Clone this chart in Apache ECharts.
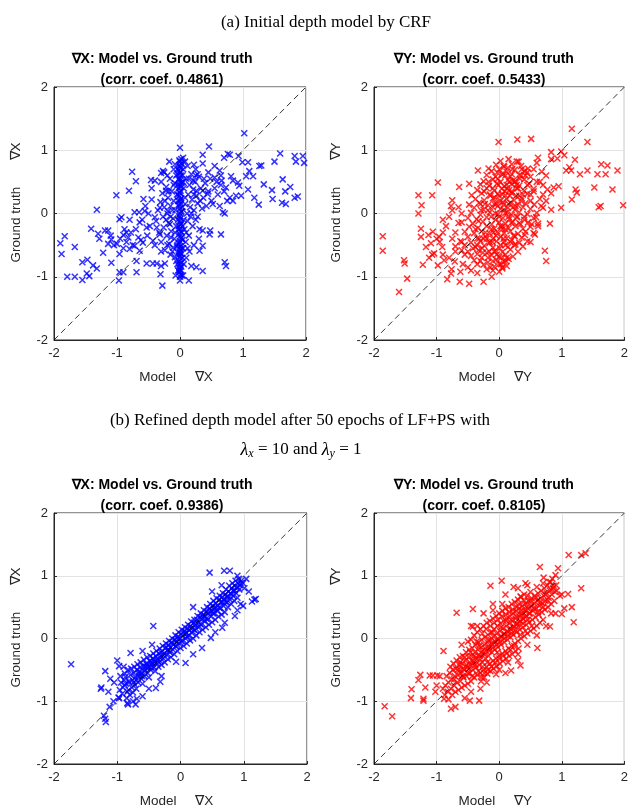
<!DOCTYPE html>
<html>
<head>
<meta charset="utf-8">
<script src="https://cdn.jsdelivr.net/npm/echarts@6/dist/echarts.min.js"></script>
<style>
  html, body { margin: 0; padding: 0; background: #fff; }
  #main { width: 631px; height: 809px; }
</style>
</head>
<body>
<div id="main"></div>
<script>

// tick labels shared by every axis
const tickValues = [-2, -1, 0, 1, 2];
const identityLine = [-2, 2];

// (a) CRF, gradient along X
const dxCrfColumn = [
  [0,-1.0],[0.01,-0.97],[-0.01,-0.93],[0,-0.88],[0.02,-0.84],[0,-0.8],[-0.02,-0.76],[0.01,-0.72],[0,-0.68],
  [0.02,-0.64],[-0.01,-0.6],[0,-0.56],[0.01,-0.52],[-0.02,-0.48],[0,-0.44],[0.02,-0.4],[0,-0.36],[-0.01,-0.32],
  [0.01,-0.28],[0,-0.24],[-0.02,-0.2],[0.02,-0.16],[0,-0.12],[0.01,-0.08],[-0.01,-0.04],[0,0],[0.02,0.04],
  [0,0.08],[-0.02,0.12],[0.01,0.16],[0,0.2],[0.02,0.24],[-0.01,0.28],[0,0.32],[0.01,0.36],[-0.02,0.4],[0,0.44],
  [0.02,0.48],[0,0.52],[-0.01,0.56],[0.01,0.6],[0,0.64],[-0.02,0.68],[0.01,0.72],[0,0.76],[0.02,0.8],[-0.01,0.84],
  [0.03,-0.98],[-0.03,-0.9],[0.04,-0.7],[-0.04,-0.5],[0.03,-0.3],[-0.03,-0.1],[0.04,0.1],[-0.03,0.3],[0.03,0.5],
  [-0.04,0.7],[0.03,0.78],[-0.03,-0.62],[0.04,-0.42],[-0.02,-0.9],
  [0.01,-0.9],[-0.01,-0.86],[0.02,-0.78],[-0.02,-0.66],[0.01,-0.58],[-0.01,-0.46],[0.02,-0.38],[-0.02,-0.26],
  [0.01,-0.18],[-0.01,-0.06],[0.02,0.02],[-0.02,0.14],[0.01,0.22],[-0.01,0.34],[0.02,0.42],[-0.02,0.54],
  [0.01,0.66],[-0.01,0.74],[0.02,0.86],[0.0,0.82],[-0.03,0.2],[0.04,-0.2],[-0.04,-0.8],[0.04,0.6],[-0.04,0.45],[0.03,-0.55]
];
const dxCrfCore = [
  [-0.38,-0.12],[-0.35,0.05],[-0.33,-0.3],[-0.31,0.18],[-0.3,-0.45],[-0.28,0.32],[-0.27,-0.05],[-0.26,-0.22],
  [-0.25,0.1],[-0.24,-0.58],[-0.22,0.42],[-0.21,-0.35],[-0.2,0.0],[-0.19,0.25],[-0.18,-0.15],[-0.17,-0.48],
  [-0.16,0.55],[-0.15,0.12],[-0.14,-0.28],[-0.13,0.35],[-0.12,-0.6],[-0.11,-0.08],[-0.1,0.2],[-0.09,-0.4],
  [-0.08,0.48],[-0.07,0.05],[-0.06,-0.2],[-0.05,0.3],[-0.05,-0.52],[-0.04,0.62],
  [0.05,-0.55],[0.06,0.4],[0.07,-0.25],[0.08,0.15],[0.09,-0.45],[0.1,0.55],[0.11,0.0],[0.12,-0.12],[0.13,0.3],
  [0.14,-0.35],[0.15,0.45],[0.16,0.1],[0.17,-0.05],[0.18,0.62],[0.19,0.22],[0.2,-0.2],[0.21,0.38],[0.22,0.05],
  [0.24,0.5],[0.25,-0.1],[0.26,0.28],[0.28,0.16],[0.3,0.58],[0.31,-0.25],[0.33,0.4],[0.35,0.08],[0.37,0.25],
  [0.4,0.48],[0.42,0.12],[0.45,0.35],[0.48,0.55],[0.5,0.2],
  [-0.45,0.22],[-0.48,-0.2],[-0.5,0.0],[-0.52,-0.35],[-0.55,0.12],[-0.6,-0.1],[-0.62,-0.42],[-0.65,0.02],
  [-0.7,-0.25],[-0.75,-0.5],[-0.78,-0.3],[-0.8,-0.1],[-0.85,-0.45],[-0.9,-0.55],[-0.88,-0.25],[-0.95,-0.4],
  [-1.05,-0.5],[-1.1,-0.35],[-0.2,0.6],[-0.1,0.7],[0.05,0.7],[0.12,0.75],[0.25,0.7],[-0.3,0.5],[-0.25,0.65],
  [0.0,-0.62],[-0.15,-0.65],[0.1,-0.7],[0.15,-0.6],[-0.06,-0.75],[0.06,-0.8],[-0.08,0.78],[0.08,0.82],
  [-0.3,-0.6],[0.3,-0.4],[0.22,-0.5],[-0.4,-0.5],[-0.45,0.4],[0.55,0.4],[0.6,0.3],[0.58,0.5],[0.65,0.45],
  [0.7,0.35],[0.75,0.2],[0.65,0.6],[0.45,0.65],
  [-0.2,-0.5],[-0.15,-0.05],[-0.1,0.45],[-0.08,-0.3],[-0.12,0.05],[0.08,0.25],[0.1,-0.3],[0.14,0.55],[0.18,0.0],
  [0.22,0.3],[0.25,0.6],[0.28,-0.05],[0.32,0.2],[0.38,0.55],[0.12,-0.55],[-0.18,0.35],[-0.22,-0.1],[0.05,0.5],
  [0.06,-0.1],[-0.06,0.6]
];
const dxCrfOuter = [
  [1.02,1.27],[0.46,1.06],[0.0,1.04],[-1.01,0.29],[-1.32,0.06],[-0.76,0.66],[-0.70,0.51],[-0.81,0.36],
  [-1.90,-0.47],[-1.83,-0.36],[-1.88,-0.64],[-1.67,-0.53],[-1.79,-1.0],[-1.67,-1.0],[-1.55,-1.05],[-1.48,-0.95],
  [-1.44,-0.99],[-1.55,-0.77],[-1.47,-0.73],[-1.38,-0.82],[-1.32,-0.87],[-1.41,-0.24],[-1.30,-0.32],[-1.28,-0.40],
  [-1.19,-0.27],[-1.14,-0.27],[-1.22,-0.62],[-1.14,-0.48],[-1.09,-0.41],[-1.09,-0.78],[-0.97,-1.06],[-0.96,-0.93],
  [-0.90,-0.93],[-0.96,-0.09],[-0.93,-0.06],[-1.0,-0.48],[-0.96,-0.64],[-0.90,-0.34],[-0.85,-0.30],[-0.82,-0.38],
  [-0.80,-0.56],[-0.69,-0.93],[-0.69,-0.75],[-0.72,-0.51],[-0.64,-0.59],[-0.66,-0.38],[-0.64,-0.14],[-0.72,0.02],
  [-0.56,0.04],[-0.53,-0.22],[-0.59,-0.46],[-0.53,-0.79],[-0.43,-0.79],[-0.46,0.53],[-0.40,0.52],[-0.58,0.23],
  [-0.27,0.67],[-0.30,0.64],[-0.17,0.82],[-0.28,-1.14],[-0.37,-0.79],[-0.30,-0.83],[-0.24,-0.79],[-0.31,-0.96],
  [-0.43,-0.43],[-0.37,-0.22],[-0.32,-0.33],[-0.40,-0.06],[-0.32,0.09],[-0.24,0.2],[-0.22,0.36],[-0.19,0.04],
  [-0.16,-0.17],[-0.14,-0.38],[-0.11,-0.54],[-0.08,-0.69],[-0.07,-0.98],[0.0,-1.06],[0.05,-0.98],[0.14,-1.06],
  [0.18,-0.83],[0.26,-0.85],[0.36,-0.91],[0.31,-0.59],[0.36,-0.51],[0.36,-0.27],[0.47,-0.33],[0.48,-0.27],
  [0.65,-0.33],[0.71,-0.77],[0.73,-0.83],[0.71,0.0],[0.68,0.02],[0.63,0.12],[0.52,0.15],[0.44,0.31],[0.36,0.36],
  [0.26,0.36],[0.21,0.52],[0.28,0.62],[0.36,0.79],[0.36,0.93],[0.22,0.77],[0.05,0.88],[0.55,0.75],[0.63,0.68],
  [0.55,0.57],[0.66,0.52],[0.73,0.41],[0.84,0.52],[0.81,0.59],[0.92,0.49],[0.94,0.44],[0.89,0.28],[0.97,0.28],
  [0.84,0.2],[0.79,0.25],[1.08,0.38],[1.10,0.67],[1.05,0.59],[1.16,0.59],[1.08,0.81],[0.93,0.91],[0.79,0.93],
  [0.70,0.88],[0.76,0.94],[1.26,0.75],[1.29,0.76],[1.33,0.46],[1.18,0.25],[1.25,0.14],[1.46,0.37],[1.47,0.23],
  [1.63,0.54],[1.67,0.35],[1.75,0.42],[1.62,0.17],[1.68,0.15],[1.82,0.25],[1.87,0.27],[1.50,0.82],[1.59,0.95],
  [1.82,0.91],[1.95,0.91],[1.84,0.82],[1.97,0.80],[0.99,0.81]
];

// (a) CRF, gradient along Y
const dyCrfCore = [
  [-0.1,-0.9],[0.0,-0.92],[0.05,-0.87],[-0.2,-0.88],
  [-0.25,-0.81],[-0.08,-0.84],[0.03,-0.8],[0.12,-0.83],[-0.35,-0.8],
  [-0.4,-0.74],[-0.18,-0.77],[-0.05,-0.73],[0.08,-0.76],[0.15,-0.72],[-0.3,-0.75],
  [-0.45,-0.67],[-0.28,-0.7],[-0.12,-0.66],[0.0,-0.69],[0.1,-0.65],[0.22,-0.68],[-0.35,-0.64],
  [-0.5,-0.6],[-0.33,-0.58],[-0.2,-0.62],[-0.06,-0.59],[0.05,-0.61],[0.18,-0.57],[0.3,-0.6],[-0.6,-0.58],
  [-0.55,-0.5],[-0.38,-0.53],[-0.24,-0.51],[-0.1,-0.54],[0.02,-0.5],[0.14,-0.53],[0.26,-0.49],[0.38,-0.52],[-0.7,-0.52],
  [-0.62,-0.44],[-0.45,-0.46],[-0.3,-0.43],[-0.16,-0.47],[-0.04,-0.44],[0.08,-0.45],[0.2,-0.42],[0.32,-0.46],[0.45,-0.44],
  [-0.5,-0.37],[-0.35,-0.39],[-0.22,-0.36],[-0.1,-0.4],[0.02,-0.37],[0.12,-0.39],[0.25,-0.36],[0.36,-0.38],[-0.75,-0.4],
  [-0.55,-0.29],[-0.4,-0.31],[-0.28,-0.28],[-0.15,-0.32],[-0.03,-0.29],[0.08,-0.31],[0.18,-0.28],[0.3,-0.32],[0.42,-0.29],[0.55,-0.31],
  [-0.48,-0.21],[-0.34,-0.23],[-0.2,-0.2],[-0.08,-0.24],[0.04,-0.21],[0.15,-0.23],[0.26,-0.2],[0.38,-0.24],[0.5,-0.21],
  [-0.6,-0.14],[-0.42,-0.16],[-0.26,-0.13],[-0.12,-0.17],[0.0,-0.14],[0.1,-0.16],[0.22,-0.13],[0.34,-0.17],[0.46,-0.14],[0.62,-0.16],
  [-0.5,-0.07],[-0.36,-0.09],[-0.2,-0.06],[-0.06,-0.1],[0.06,-0.07],[0.16,-0.09],[0.28,-0.06],[0.4,-0.1],[0.55,-0.07],
  [-0.45,0.01],[-0.3,-0.02],[-0.15,0.02],[-0.02,-0.01],[0.1,0.01],[0.2,-0.02],[0.32,0.02],[0.45,-0.01],[0.6,0.01],[-0.6,0.0],
  [-0.4,0.09],[-0.25,0.06],[-0.1,0.1],[0.02,0.07],[0.14,0.09],[0.25,0.06],[0.38,0.1],[0.5,0.07],[0.7,0.09],
  [-0.48,0.14],[-0.32,0.17],[-0.18,0.13],[-0.05,0.16],[0.07,0.14],[0.18,0.17],[0.3,0.13],[0.42,0.16],[0.56,0.14],
  [-0.38,0.23],[-0.24,0.21],[-0.1,0.24],[0.02,0.2],[0.12,0.23],[0.24,0.21],[0.36,0.24],[0.5,0.2],[0.65,0.23],
  [-0.44,0.29],[-0.28,0.32],[-0.14,0.28],[-0.02,0.31],[0.1,0.29],[0.2,0.32],[0.32,0.28],[0.45,0.31],
  [-0.35,0.37],[-0.2,0.4],[-0.08,0.36],[0.04,0.39],[0.16,0.37],[0.28,0.4],[0.4,0.36],[0.55,0.39],
  [-0.3,0.46],[-0.16,0.44],[-0.04,0.47],[0.08,0.43],[0.2,0.46],[0.32,0.44],[0.48,0.47],
  [-0.25,0.51],[-0.1,0.54],[0.02,0.5],[0.14,0.53],[0.26,0.51],[0.4,0.54],[0.6,0.5],
  [-0.2,0.61],[-0.06,0.58],[0.06,0.62],[0.18,0.59],[0.32,0.61],[0.5,0.58],
  [-0.12,0.67],[0.0,0.7],[0.12,0.66],[0.25,0.69],[0.4,0.67],
  [-0.05,0.77],[0.08,0.74],[0.2,0.78],[0.35,0.75],[0.02,0.83],[0.15,0.86],[0.28,0.82],
  [-0.15,-0.45],[-0.05,-0.35],[0.05,-0.25],[0.1,-0.5],[-0.12,-0.25],[0.0,-0.05],[0.08,0.05],[-0.08,0.15],
  [0.05,0.3],[-0.1,0.4],[0.12,0.45],[0.2,0.35],[0.15,-0.05],[-0.18,0.05],[-0.02,0.55],[0.1,0.6],[-0.15,0.3],
  [0.22,0.1],[-0.25,-0.4],[0.0,-0.8],[-0.08,-0.6],[0.12,-0.7],[0.25,0.5],[0.3,0.4],[0.35,0.6],[-0.3,0.15],
  [0.45,0.45],[0.5,0.3],[-0.35,-0.5],[0.4,-0.05],
  [-0.27,-0.55],[-0.22,-0.3],[-0.18,-0.7],[-0.13,-0.05],[-0.11,-0.45],[-0.07,0.25],[-0.04,-0.65],[-0.01,0.45],
  [0.02,-0.2],[0.04,0.62],[0.07,-0.4],[0.09,0.35],[0.11,-0.75],[0.13,0.02],[0.16,0.5],[0.19,-0.15],[0.21,0.7],
  [0.23,-0.35],[0.27,0.28],[0.29,-0.05],[0.33,0.55],[0.35,0.2],[-0.33,-0.12],[-0.29,0.05],[-0.24,0.35],
  [-0.17,0.5],[-0.14,-0.85],[-0.03,0.65],[0.01,-0.55],[0.06,0.18],[0.1,-0.25],[0.14,0.72],[0.17,0.28],
  [0.24,-0.5],[0.28,0.45],[0.32,-0.15],[-0.38,-0.25],[-0.42,-0.55],[-0.2,-0.4],[-0.06,0.0],[0.0,0.28],
  [0.03,-0.7],[0.12,0.4],[0.2,0.62],[0.26,0.12],[-0.1,-0.75],[-0.23,0.15],[-0.16,-0.6],[0.07,0.75],[0.36,0.7],
  [0.42,0.6],[-0.02,0.12],[-0.09,-0.3],[0.18,-0.45],[0.15,0.15],[-0.26,-0.62],[-0.32,-0.4],[0.05,-0.85],
  [0.22,0.52],[0.38,0.3]
];
const dyCrfOuter = [
  [-1.86,-0.36],[-1.86,-0.59],[-1.60,-1.24],[-1.47,-1.03],[-1.52,-0.74],[-1.51,-0.79],[-1.29,0.29],[-1.24,0.13],
  [-1.29,0.0],[-1.25,-0.24],[-1.25,-0.37],[-1.22,-0.81],[-1.17,-0.53],[-1.13,-0.34],[-1.07,0.29],[-0.98,0.49],
  [-1.06,-0.29],[-1.09,-0.47],[-1.04,-0.63],[-0.98,-0.82],[-1.07,-0.65],[-1.12,-0.70],[-0.96,-0.37],[-0.91,-0.53],
  [-0.88,-0.74],[-0.83,-1.04],[-0.77,-0.95],[-0.76,-0.88],[-0.71,-0.76],[-0.75,0.21],[-0.77,0.12],[-0.64,0.42],
  [-0.48,0.47],[-0.63,-1.08],[-0.48,-1.11],[-0.62,-0.92],[-0.35,-0.94],[-0.25,-1.08],[-0.12,-1.0],[-0.34,0.68],
  [-0.17,0.71],[-0.01,1.13],[0.29,1.17],[0.51,1.18],[0.31,0.82],[0.46,0.71],[0.62,0.88],[0.68,0.66],[0.83,0.97],
  [0.83,0.86],[0.99,0.98],[0.93,0.87],[1.04,0.92],[1.12,0.73],[1.21,0.85],[1.16,1.34],[1.41,1.13],[1.07,0.68],
  [1.15,0.68],[1.29,0.62],[1.41,0.68],[1.57,0.62],[1.70,0.62],[1.63,0.78],[1.73,0.76],[1.89,0.68],[1.81,0.38],
  [1.52,0.41],[1.22,0.38],[1.24,0.33],[1.16,0.22],[0.99,0.09],[0.95,0.43],[0.87,0.41],[0.83,0.32],[0.77,0.38],
  [0.81,-0.16],[0.83,0.06],[0.73,-0.59],[0.75,-0.75],[0.57,-0.33],[0.41,-0.34],[0.52,-0.17],[0.59,-0.06],
  [0.67,0.12],[1.62,0.12],[1.59,0.1],[1.98,0.13],
  [-0.9,-0.1],[-0.85,-0.2],[-0.8,-0.05],[-0.7,-0.3],[-0.65,-0.15],[-0.6,-0.45],[-0.55,-0.65],[-0.7,-0.6],
  [-0.9,-0.3],[-0.95,-0.45],[-0.8,-0.7],[-0.75,0.05],[-0.65,0.1],[-0.58,-0.8],[-0.5,-0.85],[-0.45,-0.9],
  [-0.9,-0.65],[-1.0,-0.4],[0.55,0.7],[0.65,0.5],[0.7,0.3],[0.6,0.8],[0.75,0.6],[0.7,0.45],[0.55,0.35],
  [0.45,0.65],[0.62,-0.2],[0.5,-0.45],[0.75,0.2]
];

// (b) LF+PS refined, gradient along X
const dxRefCore = [
  [-0.96,-0.82],[-0.94,-0.7],[-0.97,-0.95],[-0.91,-0.78],[-0.89,-0.66],[-0.92,-0.88],[-0.88,-0.56],
  [-0.86,-0.72],[-0.84,-0.85],[-0.87,-0.61],[-0.83,-0.5],[-0.81,-0.7],[-0.79,-0.58],[-0.82,-0.82],[-0.78,-0.48],[-0.8,-0.9],
  [-0.76,-0.66],[-0.74,-0.55],[-0.77,-0.78],[-0.73,-0.45],[-0.75,-0.86],[-0.71,-0.62],[-0.69,-0.5],[-0.72,-0.74],[-0.68,-0.41],[-0.7,-0.8],
  [-0.66,-0.6],[-0.64,-0.46],[-0.67,-0.7],[-0.63,-0.38],[-0.65,-0.53],[-0.61,-0.55],[-0.59,-0.44],[-0.62,-0.64],[-0.58,-0.34],[-0.6,-0.72],
  [-0.56,-0.5],[-0.54,-0.4],[-0.57,-0.6],[-0.53,-0.3],[-0.55,-0.45],[-0.51,-0.46],[-0.49,-0.36],[-0.52,-0.55],[-0.48,-0.28],[-0.5,-0.62],
  [-0.46,-0.42],[-0.44,-0.32],[-0.47,-0.5],[-0.43,-0.24],[-0.45,-0.38],[-0.41,-0.37],[-0.39,-0.28],[-0.42,-0.46],[-0.38,-0.2],[-0.4,-0.52],
  [-0.36,-0.33],[-0.34,-0.24],[-0.37,-0.4],[-0.33,-0.16],[-0.35,-0.45],[-0.31,-0.28],[-0.29,-0.2],[-0.32,-0.36],[-0.28,-0.12],[-0.3,-0.42],
  [-0.26,-0.24],[-0.24,-0.15],[-0.27,-0.32],[-0.23,-0.08],[-0.25,-0.38],[-0.21,-0.19],[-0.19,-0.1],[-0.22,-0.26],[-0.18,-0.04],[-0.2,-0.33],
  [-0.16,-0.14],[-0.14,-0.06],[-0.17,-0.22],[-0.13,0.0],[-0.15,-0.3],[-0.11,-0.1],[-0.09,-0.02],[-0.12,-0.18],[-0.08,0.05],[-0.1,-0.25],
  [-0.06,-0.05],[-0.04,0.03],[-0.07,-0.12],[-0.03,0.1],[-0.05,-0.2],[-0.01,0.0],[0.01,0.07],[-0.02,-0.08],[0.02,0.14],[0.0,-0.15],
  [0.04,0.04],[0.06,0.12],[0.03,-0.04],[0.07,0.18],[0.05,-0.12],[0.09,0.08],[0.11,0.16],[0.08,0.0],[0.12,0.22],[0.1,-0.08],
  [0.14,0.13],[0.16,0.2],[0.13,0.05],[0.17,0.27],[0.15,-0.03],[0.19,0.17],[0.21,0.25],[0.18,0.09],[0.22,0.3],[0.2,0.0],
  [0.24,0.22],[0.26,0.3],[0.23,0.13],[0.27,0.36],[0.25,0.05],[0.29,0.26],[0.31,0.34],[0.28,0.18],[0.32,0.4],[0.3,0.1],
  [0.34,0.31],[0.36,0.38],[0.33,0.22],[0.37,0.45],[0.35,0.14],[0.39,0.35],[0.41,0.43],[0.38,0.27],[0.42,0.5],[0.4,0.18],
  [0.44,0.4],[0.46,0.48],[0.43,0.3],[0.47,0.55],[0.45,0.22],[0.49,0.44],[0.51,0.52],[0.48,0.35],[0.52,0.6],[0.5,0.26],
  [0.54,0.49],[0.56,0.56],[0.53,0.4],[0.57,0.64],[0.55,0.3],[0.59,0.53],[0.61,0.62],[0.58,0.44],[0.62,0.68],[0.6,0.35],
  [0.64,0.58],[0.66,0.66],[0.63,0.48],[0.67,0.72],[0.65,0.38],[0.69,0.62],[0.71,0.7],[0.68,0.52],[0.72,0.78],[0.7,0.42],
  [0.74,0.67],[0.76,0.75],[0.73,0.58],[0.77,0.84],[0.75,0.5],[0.79,0.72],[0.81,0.8],[0.78,0.62],[0.82,0.88],[0.8,0.55],
  [0.84,0.76],[0.86,0.84],[0.83,0.68],[0.87,0.92],[0.85,0.6],[0.89,0.8],[0.91,0.88],[0.88,0.72],[0.92,0.95],[0.9,0.65],
  [0.94,0.85],[0.96,0.92],[0.93,0.78],[0.99,0.88],[1.01,0.8],
  [-0.88,-0.74],[-0.82,-0.68],[-0.74,-0.7],[-0.66,-0.56],[-0.61,-0.6],[-0.53,-0.42],[-0.47,-0.46],[-0.42,-0.33],
  [-0.36,-0.36],[-0.31,-0.22],[-0.27,-0.27],[-0.22,-0.14],[-0.18,-0.2],[-0.13,-0.08],[-0.08,-0.12],[-0.04,-0.01],
  [0.01,-0.04],[0.06,0.07],[0.11,0.03],[0.16,0.16],[0.21,0.14],[0.26,0.24],[0.31,0.23],[0.36,0.33],[0.41,0.32],
  [0.46,0.42],[0.51,0.4],[0.56,0.5],[0.61,0.49],[0.66,0.58],[0.71,0.59],[0.76,0.67],[0.81,0.7],[0.86,0.77],
  [0.91,0.82],[0.95,0.88],[-0.7,-0.66],[-0.57,-0.52],[-0.44,-0.4],[-0.33,-0.3],[-0.2,-0.18],[-0.06,-0.06],
  [0.09,0.1],[0.23,0.2],[0.38,0.36],[0.53,0.46],[0.68,0.63],[0.83,0.76]
];
const dxRefOuter = [
  [-1.73,-0.41],[-1.19,-0.52],[-1.25,-0.78],[-1.26,-0.8],[-1.14,-0.85],[-1.11,-0.64],[-1.19,-1.28],[-1.18,-1.33],
  [-1.21,-1.23],[-1.12,-1.09],[-1.06,-1.0],[-0.98,-0.94],[-1.0,-0.35],[-0.97,-0.44],[-0.84,-1.03],[-0.83,-1.05],
  [-0.71,-1.05],[-0.69,-0.96],[-0.6,-0.92],[-0.79,-0.23],[-0.43,0.2],[-0.39,-0.79],[-0.32,-0.69],[-0.07,-0.37],
  [0.08,-0.39],[0.34,-0.15],[0.46,1.05],[0.69,1.08],[0.78,1.08],[1.04,0.95],[1.08,0.75],[1.17,0.62],[1.19,0.63],
  [1.13,0.59],[0.99,0.52],[0.86,0.36],[0.66,0.17],[0.48,0.01],
  [-0.9,-0.45],[-0.85,-0.95],[-0.75,-1.0],[-0.5,-0.8],[-0.3,-0.6],[0.2,-0.25],[0.55,0.1],[0.7,0.25],[0.9,0.45],
  [0.95,0.55],[-0.6,-0.2],[-0.45,-0.1],[0.2,0.5],[0.5,0.75],[0.65,0.85],[0.9,1.0],[-1.05,-0.7],[-0.95,-0.6]
];

// (b) LF+PS refined, gradient along Y
const dyRefCore = [
  [-0.86,-0.75],[-0.84,-0.6],[-0.87,-0.9],[-0.81,-0.7],[-0.79,-0.55],[-0.82,-0.85],[-0.78,-0.45],
  [-0.76,-0.65],[-0.74,-0.5],[-0.77,-0.8],[-0.73,-0.4],[-0.75,-0.9],[-0.71,-0.6],[-0.69,-0.48],[-0.72,-0.75],[-0.68,-0.35],[-0.7,-0.85],
  [-0.66,-0.58],[-0.64,-0.42],[-0.67,-0.7],[-0.63,-0.3],[-0.65,-0.82],[-0.62,-0.5],
  [-0.61,-0.55],[-0.59,-0.4],[-0.62,-0.68],[-0.58,-0.28],[-0.6,-0.78],[-0.57,-0.48],
  [-0.56,-0.5],[-0.54,-0.35],[-0.57,-0.62],[-0.53,-0.22],[-0.55,-0.75],[-0.52,-0.42],
  [-0.51,-0.46],[-0.49,-0.3],[-0.52,-0.6],[-0.48,-0.18],[-0.5,-0.72],[-0.47,-0.38],[-0.5,-0.05],
  [-0.46,-0.42],[-0.44,-0.28],[-0.47,-0.55],[-0.43,-0.15],[-0.45,-0.68],[-0.42,-0.35],[-0.45,-0.02],
  [-0.41,-0.38],[-0.39,-0.22],[-0.42,-0.5],[-0.38,-0.1],[-0.4,-0.62],[-0.37,-0.3],[-0.4,0.05],
  [-0.36,-0.33],[-0.34,-0.18],[-0.37,-0.46],[-0.33,-0.06],[-0.35,-0.58],[-0.32,-0.26],[-0.35,0.1],
  [-0.31,-0.28],[-0.29,-0.14],[-0.32,-0.42],[-0.28,-0.02],[-0.3,-0.55],[-0.27,-0.2],[-0.3,0.15],[-0.29,-0.68],
  [-0.26,-0.24],[-0.24,-0.1],[-0.27,-0.38],[-0.23,0.02],[-0.25,-0.5],[-0.22,-0.16],[-0.25,0.2],[-0.24,-0.62],
  [-0.21,-0.2],[-0.19,-0.06],[-0.22,-0.32],[-0.18,0.06],[-0.2,-0.45],[-0.17,-0.12],[-0.2,0.25],[-0.19,-0.56],
  [-0.16,-0.15],[-0.14,-0.02],[-0.17,-0.28],[-0.13,0.1],[-0.15,-0.4],[-0.12,-0.08],[-0.15,0.28],[-0.14,-0.52],
  [-0.11,-0.1],[-0.09,0.03],[-0.12,-0.22],[-0.08,0.15],[-0.1,-0.36],[-0.07,-0.04],[-0.1,0.32],[-0.09,-0.48],
  [-0.06,-0.06],[-0.04,0.08],[-0.07,-0.18],[-0.03,0.2],[-0.05,-0.32],[-0.02,0.0],[-0.05,0.36],[-0.04,-0.44],
  [-0.01,-0.02],[0.01,0.12],[-0.02,-0.14],[0.02,0.24],[0.0,-0.28],[0.03,0.04],[0.0,0.4],[0.01,-0.4],
  [0.04,0.02],[0.06,0.16],[0.03,-0.1],[0.07,0.28],[0.05,-0.24],[0.08,0.08],[0.05,0.44],[0.06,-0.36],
  [0.09,0.06],[0.11,0.2],[0.08,-0.06],[0.12,0.32],[0.1,-0.2],[0.13,0.12],[0.1,0.48],[0.11,-0.32],
  [0.14,0.1],[0.16,0.24],[0.13,-0.02],[0.17,0.36],[0.15,-0.16],[0.18,0.16],[0.15,0.5],[0.16,-0.28],
  [0.19,0.14],[0.21,0.28],[0.18,0.02],[0.22,0.4],[0.2,-0.12],[0.23,0.2],[0.2,0.55],[0.21,-0.25],
  [0.24,0.18],[0.26,0.32],[0.23,0.06],[0.27,0.44],[0.25,-0.08],[0.28,0.24],[0.25,0.58],[0.26,-0.2],
  [0.29,0.23],[0.31,0.36],[0.28,0.1],[0.32,0.48],[0.3,-0.04],[0.33,0.28],[0.3,0.62],[0.31,-0.16],
  [0.34,0.27],[0.36,0.4],[0.33,0.14],[0.37,0.52],[0.35,0.0],[0.38,0.32],[0.35,0.66],
  [0.39,0.31],[0.41,0.44],[0.38,0.18],[0.42,0.56],[0.4,0.04],[0.43,0.36],[0.4,0.7],
  [0.44,0.36],[0.46,0.48],[0.43,0.22],[0.47,0.6],[0.45,0.08],[0.48,0.4],
  [0.49,0.4],[0.51,0.52],[0.48,0.26],[0.52,0.64],[0.5,0.12],[0.5,0.74],
  [0.54,0.44],[0.56,0.56],[0.53,0.3],[0.57,0.68],[0.55,0.16],[0.59,0.48],[0.61,0.6],[0.58,0.34],[0.62,0.72],[0.6,0.2],
  [0.64,0.52],[0.66,0.64],[0.63,0.38],[0.67,0.76],[0.65,0.25],[0.69,0.56],[0.71,0.68],[0.68,0.42],[0.72,0.8],[0.7,0.3],
  [0.74,0.6],[0.76,0.72],[0.73,0.46],[0.77,0.85],[0.79,0.65],[0.81,0.76],[0.78,0.5],[0.82,0.9],
  [0.84,0.7],[0.86,0.8],[0.83,0.55],[0.89,0.74],[0.91,0.85],[0.88,0.6],
  [-0.72,-0.65],[-0.66,-0.5],[-0.58,-0.6],[-0.55,-0.3],[-0.5,-0.55],[-0.46,-0.22],[-0.43,-0.6],[-0.38,-0.42],
  [-0.36,-0.05],[-0.33,-0.52],[-0.3,-0.33],[-0.27,0.08],[-0.26,-0.45],[-0.23,-0.25],[-0.21,0.15],[-0.19,-0.38],
  [-0.16,-0.2],[-0.14,0.2],[-0.12,-0.45],[-0.1,-0.15],[-0.08,0.25],[-0.06,-0.38],[-0.04,-0.1],[-0.02,0.3],
  [0.0,-0.32],[0.02,-0.06],[0.04,0.35],[0.06,-0.28],[0.08,0.0],[0.1,0.38],[0.12,-0.24],[0.14,0.04],[0.16,0.42],
  [0.18,-0.18],[0.2,0.08],[0.22,0.46],[0.24,-0.12],[0.26,0.12],[0.28,0.5],[0.3,0.2],[0.32,0.55],[0.34,0.06],
  [0.36,0.45],[0.38,0.24],[0.4,0.6],[0.42,0.12],[0.44,0.5],[0.46,0.3],[0.5,0.6],[0.52,0.2],[0.55,0.48],
  [0.58,0.65],[0.62,0.42],[0.66,0.58],[0.7,0.5],[0.74,0.7],[0.78,0.6],[0.82,0.78],[-0.62,-0.38],[-0.48,-0.48],
  [-0.4,-0.28],[-0.32,-0.12],[-0.24,-0.55],[-0.17,-0.02],[-0.11,0.1],[-0.03,-0.22],[0.03,0.18],[0.11,0.28],
  [0.19,0.3],[0.27,0.36],[0.35,0.38],[0.45,0.68],[-0.28,-0.62],[-0.18,-0.5],[0.0,-0.5],[0.14,-0.38],[0.3,-0.25],
  [0.05,0.55],[-0.1,0.45],[-0.35,0.2],[0.6,0.82],[0.7,0.88]
];
const dyRefOuter = [
  [-1.83,-1.08],[-1.71,-1.24],[-1.41,-0.95],[-1.40,-0.81],[-1.29,-0.66],[-1.26,-0.58],[-1.18,-0.78],[-1.21,-0.96],
  [-1.21,-0.99],[-1.11,-0.59],[-1.06,-0.59],[-0.99,-0.59],[-1.02,-0.85],[-0.89,-0.20],[-0.88,-0.96],[-0.81,-0.97],
  [-0.77,-1.12],[-0.70,-1.09],[-0.68,0.41],[-0.47,-0.99],[-0.32,-0.99],[-0.42,0.47],[-0.42,0.19],[-0.14,0.84],
  [0.04,0.92],[0.23,0.82],[0.34,0.67],[0.42,0.88],[0.65,1.14],[0.71,0.97],[0.80,0.90],[0.94,1.12],[0.90,1.01],
  [0.87,0.84],[0.92,0.76],[0.97,0.68],[1.0,0.70],[1.11,1.33],[1.31,1.33],[1.38,1.36],[1.31,0.80],[1.10,0.71],
  [1.04,0.48],[1.0,0.39],[1.16,0.50],[1.19,0.26],[0.83,0.40],[0.81,0.19],[0.61,-0.15],[0.34,-0.43],[0.19,-0.51],
  [-0.05,-0.57],
  [-0.55,-0.95],[-0.45,-0.85],[-0.3,-0.8],[-0.2,-0.7],[0.1,-0.55],[0.3,-0.35],[0.45,-0.1],[0.6,0.05],[0.75,0.2],
  [0.9,0.4],[-0.6,-0.1],[-0.45,0.2],[-0.25,0.4],[-0.1,0.55],[0.1,0.7],[0.3,0.8],[0.45,0.85],[0.85,0.95],
  [-0.95,-0.6],[-0.9,-0.8],[-1.0,-0.75]
];

// ---- layout ----
const panels = [
  { grid: { left: 54, top: 87, width: 252, height: 253 }, pts: dxCrfColumn.concat(dxCrfCore, dxCrfOuter), color: '#0000ff', axis: 'X',
    title: '∇X: Model vs. Ground truth\n(corr. coef. 0.4861)', tx: 157, ty: 44 },
  { grid: { left: 374, top: 87, width: 253, height: 253 }, pts: dyCrfCore.concat(dyCrfOuter), color: '#ff0000', axis: 'Y',
    title: '∇Y: Model vs. Ground truth\n(corr. coef. 0.5433)', tx: 479, ty: 44 },
  { grid: { left: 54, top: 513, width: 253, height: 252 }, pts: dxRefCore.concat(dxRefOuter), color: '#0000ff', axis: 'X',
    title: '∇X: Model vs. Ground truth\n(corr. coef. 0.9386)', tx: 157, ty: 470 },
  { grid: { left: 374, top: 513, width: 253, height: 252 }, pts: dyRefCore.concat(dyRefOuter), color: '#ff0000', axis: 'Y',
    title: '∇Y: Model vs. Ground truth\n(corr. coef. 0.8105)', tx: 479, ty: 470 }
];

const sans = 'Liberation Sans, Arial, sans-serif';
const serif = 'Liberation Serif, Times New Roman, serif';
const axisGray = '#262626';

function axisOf(i, isX, name) {
  return {
    type: 'value', gridIndex: i, min: tickValues[0], max: tickValues[tickValues.length - 1], interval: 1,
    name: name, nameLocation: 'middle', nameGap: isX ? 30 : 31,
    nameTextStyle: { fontFamily: sans, fontSize: 13.5, color: axisGray, padding: isX ? [0, 8, 0, 0] : [0, 0, 0, 22] },
    axisLine: { show: true, onZero: false, lineStyle: { color: axisGray, width: 1 } },
    axisTick: { show: true, inside: true, length: 3, lineStyle: { color: axisGray } },
    axisLabel: { fontFamily: sans, fontSize: 13, color: axisGray, margin: isX ? 7 : 6 },
    splitLine: { show: true, lineStyle: { color: '#e3e3e3', width: 1 } }
  };
}

const crossMark = 'path://M0,0L10,10M10,0L0,10';

const option = {
  animation: false,
  backgroundColor: '#ffffff',
  title: [
    { text: '(a) Initial depth model by CRF', left: 321, top: 9, textAlign: 'center',
      textStyle: { fontFamily: serif, fontSize: 17, fontWeight: 'normal', color: '#000' } },
    { text: '(b) Refined depth model after 50 epochs of LF+PS with', left: 295, top: 407, textAlign: 'center',
      textStyle: { fontFamily: serif, fontSize: 17, fontWeight: 'normal', color: '#000' } },
    { text: '{l|λ}{s|x}{n| = 10 and }{l|λ}{s|y}{n| = 1}', left: 296, top: 435, textAlign: 'center',
      textStyle: { fontWeight: 'normal', rich: {
        l: { fontFamily: serif, fontSize: 18, fontStyle: 'italic', fontWeight: 'normal', color: '#000' },
        s: { fontFamily: serif, fontSize: 12, fontStyle: 'italic', fontWeight: 'normal', color: '#000', padding: [8, 0, 0, 0] },
        n: { fontFamily: serif, fontSize: 17, fontWeight: 'normal', color: '#000' }
      } } }
  ].concat(panels.map(p => ({
    text: p.title, left: p.tx, top: p.ty, textAlign: 'center',
    textStyle: { fontFamily: sans, fontSize: 14, fontWeight: 'bold', color: '#000', lineHeight: 21 }
  }))),
  grid: panels.map(p => Object.assign({ show: true, borderColor: axisGray, borderWidth: 1, backgroundColor: '#fff' }, p.grid)),
  xAxis: panels.map((p, i) => axisOf(i, true, 'Model     ∇' + p.axis)),
  yAxis: panels.map((p, i) => axisOf(i, false, 'Ground truth       ∇' + p.axis)),
  series: []
};

panels.forEach((p, i) => {
  option.series.push({
    type: 'scatter', xAxisIndex: i, yAxisIndex: i, data: p.pts,
    symbol: crossMark, symbolSize: 6,
    itemStyle: { color: 'none', borderColor: p.color, borderWidth: 1.5 },
    emphasis: { disabled: true }, z: 2
  });
  option.series.push({
    type: 'line', xAxisIndex: i, yAxisIndex: i,
    data: [[identityLine[0], identityLine[0]], [identityLine[1], identityLine[1]]],
    symbol: 'none', lineStyle: { color: '#000', width: 0.8, type: [6, 4] }, z: 3
  });
});

const chart = echarts.init(document.getElementById('main'));
chart.setOption(option);
</script>
</body>
</html>
